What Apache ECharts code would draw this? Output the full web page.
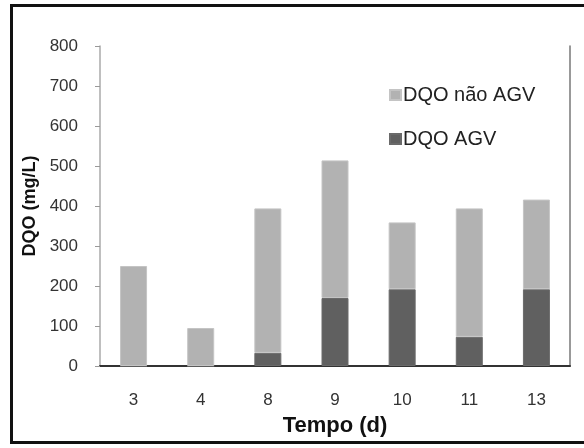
<!DOCTYPE html>
<html>
<head>
<meta charset="utf-8">
<script src="https://cdn.jsdelivr.net/npm/echarts@6/dist/echarts.min.js"></script>
<style>
html, body { margin: 0; padding: 0; background: #fff; }
#chart { width: 584px; height: 448px; }
</style>
</head>
<body>
<div id="chart"></div>
<script>
// Tempo (d)
var categories = ['3', '4', '8', '9', '10', '11', '13'];
// DQO AGV (parte de baixo) e DQO não AGV (parte de cima), mg/L
var dqoAGV = [0, 0, 33, 170, 192, 73, 192];
var dqoNaoAGV = [250, 95, 361, 344, 167, 321, 224];
var yTicks = { min: 0, max: 800, interval: 100 };

var chart = echarts.init(document.getElementById('chart'));
var fontTxt = '"Liberation Sans", Arial, sans-serif';

var option = {
    backgroundColor: '#fff',
    animation: false,
    grid: { left: 100, right: 14, top: 46, bottom: 82 },
    legend: {
        orient: 'vertical',
        left: 384,
        top: 80,
        itemWidth: 11,
        itemHeight: 10,
        itemGap: 24,
        icon: 'rect',
        data: ['DQO não AGV', 'DQO AGV'],
        textStyle: { fontFamily: fontTxt, fontSize: 20, color: '#222', padding: [0, 0, 0, -3] }
    },
    graphic: [{
        type: 'rect',
        shape: { x: 11.5, y: 5.5, width: 600, height: 437 },
        style: { fill: 'none', stroke: '#111', lineWidth: 3 },
        z: 100
    }],
    xAxis: [{
        type: 'category',
        data: categories,
        name: 'Tempo (d)',
        nameLocation: 'middle',
        nameGap: 49,
        nameTextStyle: { fontFamily: fontTxt, fontSize: 22, fontWeight: 'bold', color: '#111' },
        axisLine: { lineStyle: { color: '#aaa', width: 1.5 } },
        axisTick: { length: 6, lineStyle: { color: '#999' } },
        axisLabel: { margin: 26, fontFamily: fontTxt, fontSize: 17, color: '#333' }
    }, {
        type: 'category',
        data: categories,
        position: 'top',
        axisLine: { lineStyle: { color: '#333', width: 2 } },
        axisTick: { show: false },
        axisLabel: { show: false }
    }],
    yAxis: [{
        type: 'value',
        min: yTicks.min,
        max: yTicks.max,
        interval: yTicks.interval,
        name: 'DQO (mg/L)',
        nameLocation: 'middle',
        nameGap: 58,
        nameTextStyle: { fontFamily: fontTxt, fontSize: 18, fontWeight: 'bold', color: '#111' },
        axisLine: { show: true, lineStyle: { color: '#aaa', width: 1.5 } },
        axisTick: { show: true, length: 5, lineStyle: { color: '#999' } },
        axisLabel: { margin: 22, fontFamily: fontTxt, fontSize: 17, color: '#333' },
        splitLine: { show: false }
    }, {
        type: 'value',
        min: yTicks.min,
        max: yTicks.max,
        interval: yTicks.interval,
        position: 'right',
        axisLine: { show: true, lineStyle: { color: '#777', width: 1.5 } },
        axisTick: { show: false },
        axisLabel: { show: false },
        splitLine: { show: false }
    }],
    series: [{
        name: 'DQO AGV',
        type: 'bar',
        stack: 'dqo',
        barWidth: 27,
        data: dqoAGV,
        itemStyle: { color: '#606060', borderColor: '#6a6a6a', borderWidth: 1 }
    }, {
        name: 'DQO não AGV',
        type: 'bar',
        stack: 'dqo',
        barWidth: 27,
        data: dqoNaoAGV,
        itemStyle: { color: '#b2b2b2', borderColor: '#c4c4c4', borderWidth: 1 }
    }]
};

chart.setOption(option);
window.addEventListener('resize', function () {
    chart.resize();
});
</script>
</body>
</html>
